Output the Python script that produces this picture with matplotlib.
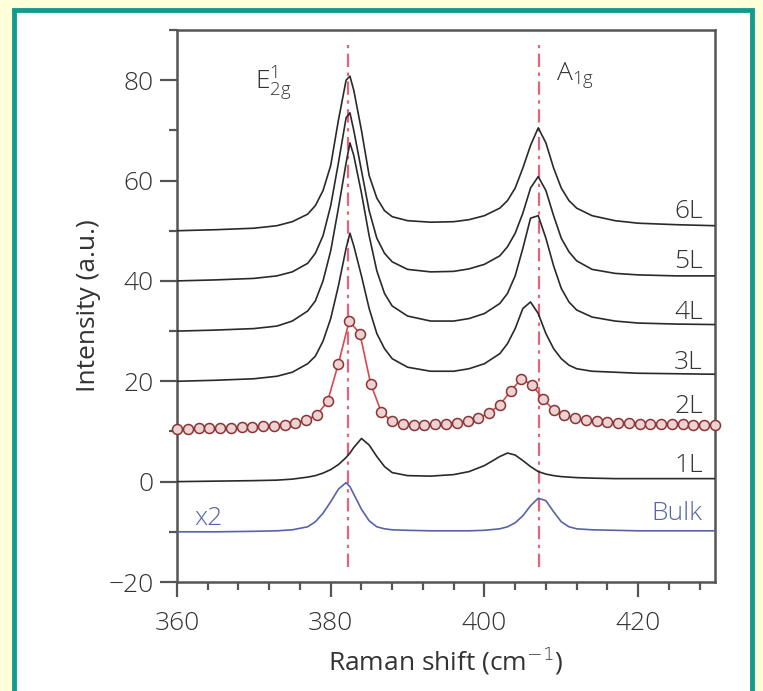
import matplotlib
matplotlib.use('Agg')
import matplotlib.pyplot as plt
from matplotlib.patches import Rectangle
from matplotlib.ticker import MultipleLocator

plt.rcParams['font.family'] = ['Open Sans', 'DejaVu Sans']
plt.rcParams['font.weight'] = 'light'

# Raman shift grid (cm^-1) used for the solid spectra
shift = [360, 365, 370, 373, 375, 377, 378, 379, 380, 381, 382, 382.5, 383, 384, 385,
         386, 387, 388, 390, 393, 396, 398, 400, 402, 403, 404, 405, 406, 407, 408,
         409, 410, 411, 412, 414, 417, 420, 425, 430]

int_6L = [50.0, 50.2, 50.5, 51.0, 51.8, 53.3, 55.0, 58.0, 63.0, 72.0, 80.0, 80.8, 78.0, 70.0, 61.0,
          56.5, 54.0, 52.8, 52.0, 51.7, 51.8, 52.2, 53.0, 54.5, 56.0, 58.5, 62.5, 67.0, 70.5, 67.5,
          62.5, 58.5, 56.0, 54.5, 53.0, 52.0, 51.5, 51.2, 51.0]
int_5L = [40.0, 40.2, 40.5, 41.0, 41.8, 43.5, 45.5, 49.0, 55.0, 63.5, 72.5, 73.5, 70.0, 62.0, 54.0,
          48.5, 45.5, 43.8, 42.3, 41.8, 41.9, 42.4, 43.3, 45.0, 46.8, 49.5, 53.5, 58.5, 60.8, 58.0,
          53.0, 48.5, 45.8, 44.0, 42.3, 41.5, 41.2, 41.0, 41.0]
int_4L = [30.0, 30.2, 30.5, 31.0, 32.0, 34.0, 36.0, 40.0, 46.0, 54.5, 63.5, 67.5, 65.0, 57.5, 49.0,
          42.0, 37.5, 35.0, 33.0, 32.0, 32.0, 32.5, 33.5, 35.5, 37.5, 41.0, 46.5, 52.5, 53.0, 48.5,
          43.0, 38.5, 35.8, 34.2, 32.8, 32.0, 31.6, 31.4, 31.3]
int_3L = [20.0, 20.2, 20.5, 21.0, 21.8, 23.5, 25.0, 28.0, 32.5, 39.0, 46.5, 49.5, 47.0, 41.0, 34.5,
          29.5, 26.5, 24.5, 22.8, 22.0, 22.0, 22.5, 23.5, 25.5, 27.5, 30.5, 34.5, 35.8, 33.5, 29.5,
          26.5, 24.5, 23.2, 22.5, 22.0, 21.8, 21.6, 21.5, 21.4]
int_1L = [0.0, 0.1, 0.2, 0.3, 0.5, 0.9, 1.2, 1.7, 2.4, 3.4, 4.8, 5.7, 6.8, 8.6, 7.3,
          5.0, 3.0, 1.8, 1.2, 1.1, 1.4, 2.0, 3.2, 5.0, 5.7, 5.3, 4.2, 3.0, 2.0, 1.5,
          1.2, 1.0, 0.9, 0.8, 0.7, 0.6, 0.6, 0.6, 0.6]
int_bulk = [-10.0, -10.0, -9.9, -9.8, -9.6, -9.0, -8.0, -6.3, -4.0, -1.5, -0.2, -1.0, -2.5, -5.5, -7.8,
            -9.0, -9.4, -9.6, -9.7, -9.8, -9.8, -9.8, -9.7, -9.4, -9.0, -8.2, -6.8, -4.8, -3.3, -3.8,
            -6.0, -8.0, -9.0, -9.4, -9.6, -9.7, -9.8, -9.8, -9.8]

# measured points for the bilayer (2L)
shift_2L = [360.0, 361.4, 362.8, 364.2, 365.6, 367.0, 368.4, 369.8, 371.2, 372.6, 374.0, 375.4,
            376.8, 378.2, 379.6, 381.0, 382.4, 383.8, 385.2, 386.6, 388.0, 389.4, 390.8, 392.2,
            393.6, 395.0, 396.4, 397.8, 399.2, 400.6, 402.0, 403.4, 404.8, 406.2, 407.6, 409.0,
            410.4, 411.8, 413.2, 414.6, 416.0, 417.4, 418.8, 420.2, 421.6, 423.0, 424.4, 425.8,
            427.2, 428.6, 430.0]
int_2L = [10.5, 10.5, 10.6, 10.6, 10.7, 10.7, 10.8, 10.9, 11.0, 11.1, 11.3, 11.7,
          12.3, 13.3, 16.0, 23.5, 32.0, 29.5, 19.5, 13.8, 12.0, 11.5, 11.3, 11.3,
          11.4, 11.5, 11.7, 12.0, 12.6, 13.7, 15.3, 18.0, 20.5, 19.3, 16.5, 14.3,
          13.2, 12.6, 12.2, 12.0, 11.8, 11.7, 11.6, 11.5, 11.5, 11.4, 11.4, 11.4,
          11.3, 11.3, 11.3]

layer_labels = ['6L', '5L', '4L', '3L', '2L', '1L', 'Bulk']
label_y = [53.8, 43.8, 33.8, 23.8, 15.0, 3.3, -6.4]
mode_positions = [382.2, 407.1]

fig = plt.figure(figsize=(7.63, 6.91), dpi=100)
fig.patch.set_facecolor('#ffffd9')
# teal frame around the figure panel, kept behind the axes
frame = Rectangle((14 / 763, -0.05), (752 - 14) / 763, 1.05 - 10 / 691,
                  transform=fig.transFigure, facecolor='white',
                  edgecolor='#14998f', linewidth=3.5, zorder=-10)
fig.patches.append(frame)

ax = fig.add_axes([177 / 763, (691 - 582) / 691, (715 - 177) / 763, (582 - 30) / 691])
ax.set_facecolor('white')
ax.set_zorder(5)

dark = '#2a2a2a'
blue = '#5564a8'
fs = 19

for y in [int_6L, int_5L, int_4L, int_3L, int_1L]:
    ax.plot(shift, y, color=dark, lw=1.2, zorder=3)
ax.plot(shift, int_bulk, color=blue, lw=1.2, zorder=3)
ax.plot(shift_2L, int_2L, color='#d8484e', lw=1.2, marker='o', ms=7.2,
        mfc='#ecd2d2', mec='#8a3434', mew=1.1, zorder=3, clip_on=False)

for xm in mode_positions:
    ax.plot([xm, xm], [-17, 87], color='#e04a62', lw=1.6, ls=(0, (6, 2.5, 1.5, 2.5)),
            alpha=0.85, zorder=2)

for lab, yl in zip(layer_labels, label_y):
    col = blue if lab == 'Bulk' else '#333333'
    ax.text(428.4, yl, lab, ha='right', va='center', fontsize=fs, color=col)
ax.text(362.3, -7.4, 'x2', ha='left', va='center', fontsize=fs, color=blue)

ax.text(370.2, 79.5, r'$\mathregular{E^1_{2g}}$', ha='left', va='center', fontsize=fs, color='#333333')
ax.text(409.3, 81, r'$\mathregular{A_{1g}}$', ha='left', va='center', fontsize=fs, color='#333333')

ax.set_xlim(360, 430)
ax.set_ylim(-20, 90)
ax.xaxis.set_major_locator(MultipleLocator(20))
ax.xaxis.set_minor_locator(MultipleLocator(4))
ax.yaxis.set_major_locator(MultipleLocator(20))
ax.yaxis.set_minor_locator(MultipleLocator(10))
ax.tick_params(which='both', direction='out', top=False, right=False,
               colors='#555555', labelcolor='#333333', labelsize=fs, width=1.6)
ax.tick_params(axis='x', which='major', length=11, pad=10)
ax.tick_params(axis='y', which='major', length=12, pad=5)
ax.tick_params(which='minor', length=6)
for s in ax.spines.values():
    s.set_color('#555555')
    s.set_linewidth(1.8)

ax.set_xlabel('Raman shift (cm$^{-1}$)', fontsize=fs, color='#333333', labelpad=6)
ax.set_ylabel('Intensity (a.u.)', fontsize=fs, color='#333333', labelpad=5)

fig.savefig('out.png', dpi=100)
